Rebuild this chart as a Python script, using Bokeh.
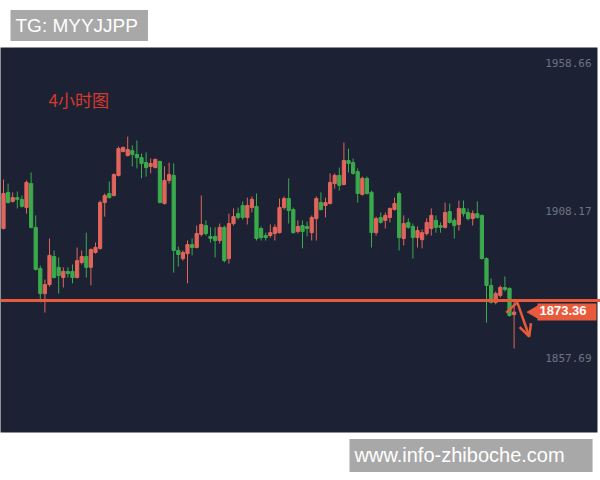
from bokeh.plotting import figure
from bokeh.models import Range1d, Label, Span, Arrow, OpenHead, BoxAnnotation
from bokeh.embed import file_html
from bokeh.resources import INLINE

# ---- data (4h candles) ----
opens = [1902.0, 1914.4, 1911.3, 1912.6, 1912.0, 1909.2, 1917.4, 1902.4, 1888.3, 1879.7,
         1882.8, 1892.4, 1888.7, 1885.2, 1887.3, 1887.3, 1885.2, 1890.4, 1892.4, 1888.7,
         1893.8, 1895.2, 1910.9, 1914.0, 1913.3, 1920.2, 1928.4, 1927.0, 1928.7, 1927.4,
         1926.3, 1924.6, 1923.3, 1922.9, 1925.0, 1910.6, 1918.5, 1920.2, 1894.5, 1891.7,
         1893.4, 1896.5, 1895.5, 1900.0, 1903.0, 1899.3, 1899.3, 1897.9, 1902.4, 1891.7,
         1903.7, 1907.1, 1909.9, 1905.8, 1909.2, 1909.6, 1902.0, 1899.6, 1899.6, 1900.3,
         1900.6, 1909.2, 1912.3, 1908.5, 1901.0, 1903.0, 1902.7, 1900.6, 1905.4, 1910.9,
         1909.9, 1910.6, 1917.4, 1920.2, 1917.1, 1925.3, 1924.6, 1921.5, 1913.7, 1919.2,
         1914.4, 1900.6, 1905.8, 1904.8, 1905.8, 1908.5, 1914.0, 1898.6, 1904.1, 1902.7,
         1898.9, 1898.2, 1900.3, 1902.0, 1904.8, 1903.0, 1902.4, 1907.8, 1904.8, 1903.4,
         1908.9, 1907.5, 1905.4, 1907.1, 1906.5, 1891.7, 1882.5, 1876.7, 1879.1, 1881.8,
         1881.5, 1872.5]
highs = [1918.8, 1917.4, 1914.4, 1914.7, 1913.3, 1918.5, 1921.2, 1906.5, 1889.3, 1884.5,
         1898.6, 1894.5, 1892.1, 1888.7, 1888.7, 1889.7, 1895.5, 1894.5, 1900.6, 1895.2,
         1897.2, 1911.6, 1914.0, 1918.1, 1920.9, 1930.1, 1930.1, 1933.5, 1930.5, 1932.2,
         1927.7, 1928.1, 1926.0, 1926.0, 1925.3, 1923.3, 1924.6, 1924.3, 1895.8, 1894.5,
         1897.9, 1898.6, 1903.0, 1913.3, 1904.8, 1902.4, 1902.4, 1903.7, 1903.0, 1907.1,
         1908.9, 1909.2, 1911.3, 1912.6, 1913.0, 1914.0, 1902.7, 1900.6, 1903.4, 1903.4,
         1912.3, 1913.0, 1919.2, 1909.2, 1904.8, 1904.8, 1904.4, 1906.5, 1913.0, 1914.4,
         1912.6, 1920.9, 1920.9, 1922.9, 1931.5, 1929.4, 1926.0, 1922.6, 1919.8, 1919.8,
         1915.0, 1906.1, 1907.5, 1907.5, 1909.2, 1912.6, 1914.7, 1906.5, 1905.5, 1903.7,
         1902.7, 1901.7, 1905.5, 1908.9, 1906.5, 1904.1, 1910.9, 1910.6, 1905.5, 1911.6,
         1911.6, 1908.9, 1908.2, 1911.3, 1906.8, 1892.1, 1884.9, 1880.4, 1882.5, 1885.6,
         1881.8, 1877.3]
lows = [1901.7, 1910.6, 1910.9, 1908.9, 1909.2, 1907.1, 1902.0, 1887.6, 1876.7, 1873.2,
        1882.1, 1884.9, 1879.7, 1881.8, 1885.2, 1883.2, 1884.9, 1889.7, 1885.2, 1882.5,
        1893.4, 1894.8, 1906.1, 1912.3, 1913.0, 1919.8, 1928.1, 1926.7, 1923.3, 1922.6,
        1919.2, 1919.8, 1920.9, 1922.6, 1910.6, 1910.2, 1917.4, 1886.9, 1889.0, 1891.0,
        1883.2, 1892.8, 1895.2, 1899.3, 1899.6, 1897.2, 1892.1, 1896.9, 1890.4, 1890.0,
        1903.0, 1905.1, 1905.1, 1903.4, 1907.5, 1897.9, 1897.9, 1897.9, 1898.9, 1897.9,
        1900.3, 1908.5, 1903.7, 1900.3, 1900.3, 1895.2, 1899.3, 1897.9, 1897.9, 1908.2,
        1905.8, 1910.2, 1915.7, 1915.0, 1916.8, 1921.2, 1920.5, 1910.9, 1913.3, 1913.7,
        1895.5, 1899.6, 1903.7, 1902.0, 1904.1, 1908.2, 1894.5, 1896.2, 1902.0, 1891.7,
        1895.5, 1895.2, 1899.6, 1899.6, 1900.6, 1900.6, 1902.0, 1903.7, 1898.6, 1901.3,
        1906.1, 1904.8, 1903.0, 1905.4, 1891.4, 1869.8, 1876.3, 1876.0, 1878.4, 1880.4,
        1871.8, 1860.9]
closes = [1914.0, 1910.9, 1912.6, 1912.0, 1909.6, 1917.8, 1902.4, 1888.0, 1879.7, 1882.8,
          1892.8, 1885.2, 1885.9, 1887.3, 1886.6, 1885.2, 1891.0, 1892.4, 1888.7, 1894.8,
          1895.5, 1910.9, 1913.3, 1912.6, 1920.5, 1929.4, 1929.8, 1929.1, 1927.4, 1926.3,
          1924.3, 1922.9, 1924.3, 1925.7, 1910.9, 1918.5, 1920.5, 1894.5, 1893.1, 1893.8,
          1896.5, 1895.5, 1900.3, 1903.4, 1900.3, 1898.6, 1897.9, 1902.4, 1891.0, 1903.7,
          1906.1, 1905.8, 1905.8, 1909.9, 1912.0, 1898.6, 1898.9, 1898.9, 1900.6, 1902.4,
          1909.2, 1912.3, 1908.2, 1900.6, 1902.7, 1901.0, 1902.0, 1905.8, 1912.3, 1908.5,
          1910.9, 1917.8, 1920.2, 1916.8, 1925.3, 1924.3, 1920.9, 1914.0, 1919.2, 1914.0,
          1900.6, 1905.4, 1904.1, 1906.5, 1908.9, 1910.6, 1898.9, 1903.7, 1902.4, 1898.9,
          1901.3, 1900.6, 1904.1, 1906.5, 1902.4, 1902.4, 1907.5, 1904.1, 1903.0, 1908.9,
          1907.1, 1905.4, 1907.1, 1905.8, 1891.7, 1882.5, 1876.7, 1879.7, 1881.8, 1881.1,
          1872.2, 1873.36]

price_ticks = [1958.66, 1908.17, 1857.69]
support_level = 1877.3
last_price = closes[-1]
title_text = "4小时图"
tag_text = "TG: MYYJJPP"
site_text = "www.info-zhiboche.com"
# hand-drawn arrow (candle index, price)
arrow_tail = (109.3, 1873.2)
arrow_apex = (111.7, 1876.7)
arrow_tip = (114.3, 1865.0)
# extent of the dark chart panel (candle index, price)
panel_x = (-2.0, 129.13)
panel_y = (1832.10, 1964.04)

UP = "#e2655b"
DOWN = "#3aaa4c"
BG = "#1c2233"
ORANGE = "#e75a3c"

# page placement of the figure
OX, OY, W, H = 0, 0, 600, 480

idx = list(range(len(opens)))
colors = [UP if c >= o else DOWN for o, c in zip(opens, closes)]
tops = [max(o, c) for o, c in zip(opens, closes)]
bots = [min(o, c) for o, c in zip(opens, closes)]

x0 = (OX - 3) / 4.6
x1 = (OX + W - 3) / 4.6
ytop = 1980.15 - 0.3427 * OY
ybot = 1980.15 - 0.3427 * (OY + H)

p = figure(width=W, height=H, output_backend="svg", toolbar_location=None,
           x_axis_type=None, y_axis_type=None,
           x_range=Range1d(x0, x1), y_range=Range1d(ybot, ytop),
           min_border_left=0, min_border_right=0, min_border_top=0, min_border_bottom=0)
p.background_fill_color = "white"
p.border_fill_color = "white"
p.outline_line_color = None

p.add_layout(BoxAnnotation(left=panel_x[0], right=panel_x[1], bottom=panel_y[0], top=panel_y[1],
                           fill_color=BG, fill_alpha=1.0, line_color=None, level="underlay"))

p.segment(x0=idx, y0=lows, x1=idx, y1=highs, line_color=colors, line_width=1)
p.vbar(x=idx, width=0.7, top=tops, bottom=bots, fill_color=colors, line_color=colors, line_width=1)

p.add_layout(Span(location=support_level, dimension="width", line_color=ORANGE, line_width=3))

for t in price_ticks:
    p.add_layout(Label(x=591 - OX, x_units="screen", y=t, y_units="data", text=f"{t:.2f}",
                       text_align="right", text_baseline="middle",
                       text_font="DejaVu Sans Mono", text_font_size="11px", text_color="#6d7384"))

# current price tag
p.scatter(x=[115.6], y=[last_price], marker="triangle", size=14, angle=1.5708,
          fill_color=ORANGE, line_color=ORANGE)
p.add_layout(Label(x=537 - OX, x_units="screen", y=last_price, y_units="data", text=f"{last_price:.2f}",
                   text_align="left", text_baseline="middle", text_font="Liberation Sans",
                   text_font_style="bold", text_font_size="13px", text_color="white",
                   background_fill_color=ORANGE, padding=(2, 10, 2, 6)))

# hand-drawn arrow
p.line(x=[arrow_tail[0], arrow_apex[0]], y=[arrow_tail[1], arrow_apex[1]], line_color=ORANGE, line_width=2.5)
p.add_layout(Arrow(x_start=arrow_apex[0], y_start=arrow_apex[1], x_end=arrow_tip[0], y_end=arrow_tip[1],
                   line_color=ORANGE, line_width=2.5,
                   end=OpenHead(size=12, line_color=ORANGE, line_width=2.5)))

p.add_layout(Label(x=48 - OX, x_units="screen", y=OY + H - 99, y_units="screen", text=title_text,
                   text_baseline="middle", text_font="Noto Sans CJK SC", text_font_size="17px",
                   text_color="#d8392d"))

p.add_layout(Label(x=10 - OX, x_units="screen", y=OY + H - 25, y_units="screen", text=tag_text,
                   text_baseline="middle", text_font="Liberation Sans", text_font_size="19px",
                   text_color="white", background_fill_color="#a8a8a8", padding=(5, 10, 5, 5)))
p.add_layout(Label(x=349 - OX, x_units="screen", y=OY + H - 455, y_units="screen", text=site_text,
                   text_baseline="middle", text_font="Liberation Sans", text_font_size="20px",
                   text_color="white", background_fill_color="#a8a8a8", padding=(5, 28, 5, 6)))

open("out.html", "w").write(file_html(p, INLINE))
